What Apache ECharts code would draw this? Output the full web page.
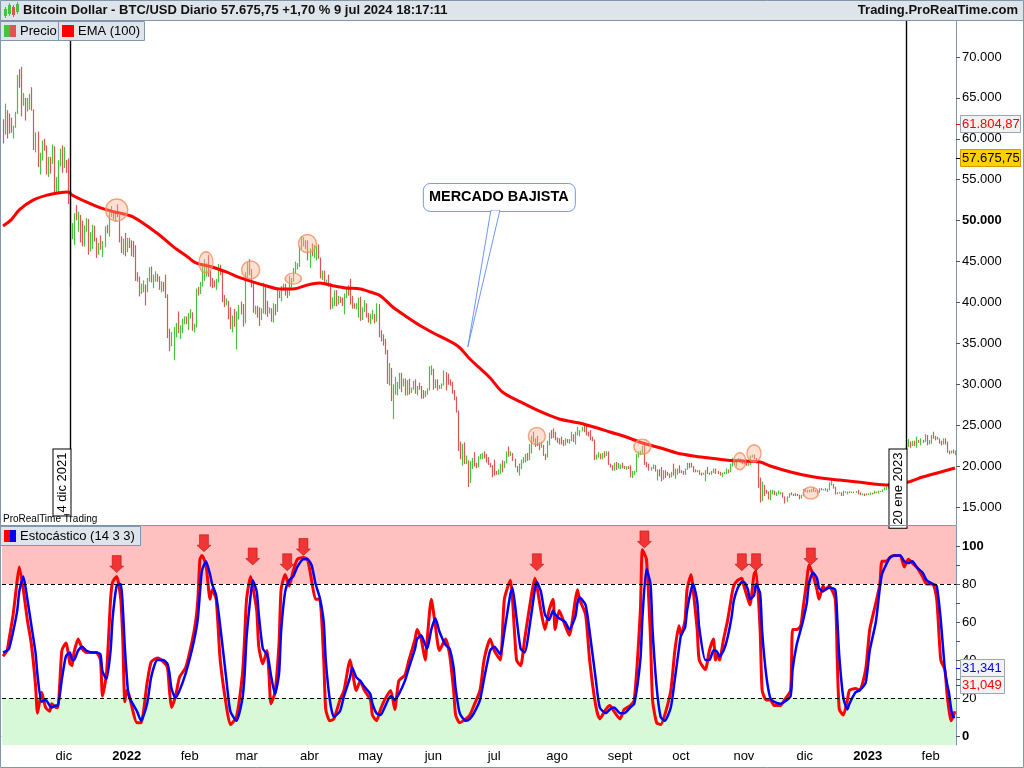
<!DOCTYPE html>
<html>
<head>
<meta charset="utf-8">
<title>Bitcoin Dollar - BTC/USD</title>
<script src="https://cdn.jsdelivr.net/npm/echarts@6/dist/echarts.min.js"></script>
<style>
html,body{margin:0;padding:0;background:#fff;overflow:hidden}
#chart{width:1024px;height:768px}
</style>
</head>
<body>
<div id="chart"></div>
<script>
// ================= DATA =================
const firstDay = '2021-11-01';
const dayCount = 470;
const monthNames = ['ene','feb','mar','abr','may','jun','jul','ago','sept','oct','nov','dic'];
const prevClose = 61300; // close of 2021-10-31 (open of first bar)

const closes = [
// nov 2021
61000,63200,62900,61400,61000,61500,63300,67600,66900,64900,64950,64150,64470,65470,63560,60160,60370,56940,58120,59750,58730,56290,57570,57200,58960,53570,54820,57250,57810,57000,
// dic 2021
57230,56510,53790,49400,49400,50580,50540,50570,47540,47150,49390,50050,46700,48340,48860,47630,46130,46830,46700,46880,48940,48630,50780,50820,50430,50810,50640,47590,46440,47180,46310,
// ene 2022
47690,47340,46460,45900,43570,43160,41560,41730,41910,41820,42740,43950,42590,43100,43180,43110,42250,42380,41680,40680,36460,35030,36280,36650,36950,36850,37140,37710,38170,37920,38480,
// feb 2022
38740,36950,37150,41570,41380,42410,43840,44120,44340,43570,42410,42240,42200,42590,44580,43960,40540,40030,40120,38430,37010,38230,37250,38330,39210,39110,37700,43190,
// mar 2022
44350,43920,42450,39140,39400,38420,37990,38730,41940,39440,38790,38900,37850,39660,39280,41110,40920,41760,42200,41260,41000,42360,42890,43960,44350,44500,46820,47130,47470,47060,45540,
// abr 2022
46280,45810,46410,46580,45500,43170,43440,42250,42750,42160,39530,40130,41170,39940,40550,40380,39680,40800,41500,41370,40530,39740,39470,39470,40460,38120,39240,39740,38600,37710,
// may 2022
38470,38530,37750,39700,36580,36040,35540,34060,30300,31020,28940,29050,29280,30100,31310,29860,30420,28720,30310,29200,29430,30320,29100,29650,29560,29270,28630,29030,29470,31730,31790,
// jun 2022
29800,30450,29700,29860,29910,31370,31130,30210,30110,29080,28420,26760,22490,22210,22570,20380,20470,19020,20550,20710,20000,19970,21080,21230,21500,21030,20730,20280,20100,19780,
// jul 2022
19300,19250,19300,20230,20190,20550,21640,21590,21590,20840,19960,19330,20210,20570,20830,21190,20780,22490,23390,23230,23160,22680,22460,22580,21310,21250,22950,23850,23800,23650,23310,
// ago 2022
23270,22990,22820,22630,23290,22960,23180,23810,23160,23950,23950,24400,24440,24310,24130,23850,23340,23210,20880,21170,21530,21400,21530,21370,21570,20260,20040,19550,20290,19810,20050,
// sept 2022
20130,19950,19830,20000,19800,18800,19290,19320,21360,21650,21830,22400,20300,20230,19700,19800,20110,19420,19540,18880,18550,19410,19300,18930,18800,19220,19110,19430,19590,19430,
// oct 2022
19310,19060,19630,20340,20160,19960,19530,19420,19450,19140,19050,19160,19380,19190,19070,19260,19550,19330,19140,19050,19170,19210,19570,19330,20090,20770,20290,20600,20810,20630,20490,
// nov 2022
20480,20160,20210,21150,21300,20910,20600,18540,15880,17590,17040,16800,16350,16620,16900,16660,16690,16700,16700,16280,15780,16190,16610,16600,16520,16460,16440,16220,16440,17170,
// dic 2022
16970,17090,16890,17110,16970,17090,16840,17230,17130,17130,17090,17210,17780,17810,17360,16630,16780,16740,16440,16900,16820,16830,16780,16840,16830,16920,16710,16550,16630,16600,16540,
// ene 2023
16620,16680,16670,16850,16830,16950,16940,17130,17180,17440,17940,18850,19930,20950,20870,21170,21160,20690,21080,22680,22780,22710,22930,22640,23060,23010,23080,23030,23770,22840,23140,
// feb 2023
23720,23490,23430,23330,22930,22760,23260,22950,21800,21630,21860,21780,21800
];

const lows = [
59500,60600,60100,60700,60800,60100,61400,63100,66300,62800,64100,62300,63400,63600,63500,58700,58400,56600,55700,57400,58600,55700,55400,55800,57000,53300,53600,53500,56700,55900,
56500,55900,52100,42000,47800,47100,50100,48700,47400,46900,46900,48700,45900,46300,46600,47500,45500,45900,46500,45600,46800,48500,48100,50500,50200,49900,50500,47400,46100,45900,45700,
46200,46700,45700,45600,42700,42600,40800,41100,41300,39700,41300,42600,42500,41800,42600,42600,41600,41300,41400,40600,35700,34100,34700,33000,35800,36300,35600,36300,37400,37400,36700,
38100,36600,36400,37000,40900,41100,42000,42700,43200,43200,42000,41800,41900,41600,42500,43400,40100,39500,39700,38000,36800,36400,37100,34300,38000,38600,37100,37500,
42900,43400,41900,38800,38600,38200,37200,37900,38700,38600,38300,38700,37700,37600,38500,38900,40600,40200,41500,40900,40600,40900,41900,42600,43600,44100,44400,46600,46900,46600,45200,
44300,45700,45500,45200,45400,43000,42800,42200,42100,42000,39200,39300,39600,39600,39800,40000,39600,38600,40600,40900,39800,39300,39300,39200,38200,37800,37900,38900,38200,37600,
37400,38000,37500,37700,35800,35300,34800,33700,30100,29900,28000,25800,28800,28700,29500,29100,29800,28700,28700,28800,29000,29400,28900,28700,29400,28300,28300,28500,28800,29300,31200,
29400,29600,29300,29500,29500,29900,29300,30000,29900,28900,28100,26600,21900,20900,20100,20300,20300,17500,18000,19700,20000,19800,19900,20900,20900,21000,20500,20200,19900,18700,
18900,19000,19000,19100,19300,19800,20400,21200,21300,20700,19900,19300,18900,19700,20400,20500,20700,20800,21600,23000,22400,22500,22000,22300,21300,20800,21100,22600,23400,23500,23200,
22900,22700,22700,22500,22600,22900,22800,23100,23000,22700,23800,23700,24300,24200,23800,23700,23200,23100,20800,20900,21100,20900,20900,21100,21300,20200,19900,19500,19500,19600,19750,
19700,19800,19700,19600,19700,18700,18600,19000,19300,21100,21400,21600,20200,19900,19500,19500,19700,19400,18300,18800,18200,18400,18600,18900,18600,18700,18900,18500,19000,19200,
19200,19000,19000,19600,19800,19900,19300,19300,19300,19000,18900,19000,18200,19100,19000,19000,19200,19100,19100,18900,18700,19100,19100,19200,19300,20000,20200,20000,20600,20500,20300,
20300,20100,20100,20200,21100,20900,20400,17400,15600,15800,16400,16700,16000,15900,16600,16500,16400,16600,16600,16200,15500,15700,16200,16500,16400,16400,16400,16000,16100,16400,
16900,16800,16850,16880,16900,16900,16700,16800,17100,17100,17050,16900,17100,17700,17300,16600,16600,16700,16400,16400,16800,16600,16750,16780,16750,16800,16600,16500,16500,16400,16500,
16500,16550,16600,16650,16750,16700,16900,16900,17100,17150,17300,17900,18700,19900,20600,20600,20900,20500,20700,20900,22400,22300,22500,22500,22300,22900,22600,22900,23000,22600,22700,
22800,23400,23200,23300,22800,22600,22700,22700,21700,21500,21600,21600,21400
];

const highs = [
62400,64300,63500,63100,62600,61600,63300,67800,68500,68800,65600,65000,65000,65500,66300,63600,60800,60900,58300,59800,60000,59200,57800,57800,59300,59100,55300,57400,58800,59200,
59000,57400,57600,53800,49700,50900,51900,51100,50700,50000,49400,50300,50200,48600,49500,49400,47900,47300,48200,47500,49300,49500,51300,51800,51100,51200,52000,50700,48100,47800,48500,
47900,47900,47600,47500,47000,43700,43100,42300,42700,42200,43000,44300,44400,43400,43800,43500,43200,42600,42500,43400,41000,36800,36400,37000,37500,38900,37200,38000,38300,38300,38700,
39200,38800,37400,41700,41900,42500,44400,45300,44800,45800,43900,43000,42700,42900,44700,44600,44100,40900,40500,40200,39400,38400,39200,38900,39700,40100,39800,43700,
44900,45300,44100,42500,39600,39600,39400,39300,42400,42000,40200,39400,39300,39900,39800,41600,41400,42000,42300,42300,41500,43300,43000,44200,45000,44800,46900,48100,48000,47600,47600,
46600,47200,47000,46900,47100,45500,43900,43900,42800,43400,42400,40600,41500,41500,40800,40700,40600,41100,41700,42100,42900,40800,39900,39900,40600,40700,39400,40300,39900,38700,
38600,39100,38600,39900,39800,36600,36100,35500,34200,32600,32000,30000,30900,30300,31400,31400,30700,30700,30500,30700,29600,30400,30600,29800,30200,29800,29300,29200,29500,32200,32300,
31900,30600,30600,29900,30100,31700,31500,31300,30600,30300,29300,28500,26800,23000,22700,22900,21300,20700,20600,21000,21700,20400,21200,21500,21600,21800,21500,21100,20400,20100,
20800,19400,19600,20300,20700,20600,21800,22400,21800,21600,20900,20000,20300,20800,21100,21500,21600,22700,23700,24200,23400,23700,22900,23000,22600,21500,23100,24100,24400,24600,24200,
23500,23400,23600,23200,23400,23300,23300,24200,23900,24200,24800,24400,24800,25000,25100,24200,24400,23600,23250,21400,21700,21500,21600,21800,21800,21800,20300,20100,20400,20500,20400,
20200,20400,20000,20000,20000,20100,19400,19400,21500,21800,21900,22500,22700,20500,20300,19900,20200,20150,19600,19600,19900,19500,19500,19300,19100,19300,20300,19700,19700,20100,
19500,19400,19700,20400,20400,20400,20000,19600,19500,19500,19200,19200,19500,19900,19200,19400,19700,19700,19400,19300,19200,19300,19700,19600,20300,21000,20800,20700,21000,20900,20800,
20700,20800,20400,21300,21400,21400,21000,20700,18600,18100,17700,17100,16900,17100,17100,17000,16800,17000,16800,16800,16300,16300,16700,16800,16600,16700,16600,16500,16500,17200,
17300,17100,17100,17200,17400,17100,17100,17300,17300,17200,17300,17240,18000,18400,17800,17500,16800,16800,16800,17000,16900,16900,16900,16900,16870,16950,17100,16800,16650,16650,16650,
16650,16770,16760,17000,16880,17000,16970,17150,17400,17500,17950,19100,19950,21200,21000,21400,21600,21600,21200,22700,23300,23000,23100,23100,23600,23200,23400,23200,23900,23800,23200,
23800,24200,23700,23600,23400,23100,23400,23400,23000,21900,21900,22000,21900
];

// EMA (100)
const emaLine = [
['2021-11-01',49350],['2021-11-05',50090],['2021-11-09',51310],['2021-11-16',52530],['2021-11-23',53140],['2021-11-28',53390],
['2021-12-03',53510],['2021-12-05',53140],['2021-12-12',52290],['2021-12-19',51550],['2021-12-26',51060],['2022-01-04',50450],
['2022-01-17',48250],['2022-01-24',46790],['2022-01-31',45560],['2022-02-04',44830],['2022-02-12',44340],['2022-02-19',43730],
['2022-02-26',43000],['2022-03-04',42510],['2022-03-11',42020],['2022-03-17',41650],['2022-03-24',41650],['2022-03-31',42140],
['2022-04-06',42380],['2022-04-13',42020],['2022-04-19',41770],['2022-04-26',41650],['2022-05-01',41280],['2022-05-06',40800],
['2022-05-12',39450],['2022-05-19',38230],['2022-05-25',37250],['2022-06-01',36270],['2022-06-13',34680],['2022-06-19',33090],
['2022-06-29',30770],['2022-07-05',29060],['2022-07-14',27840],['2022-07-23',26740],['2022-08-02',25760],['2022-08-12',25270],
['2022-08-19',24780],['2022-08-27',24170],['2022-09-04',23560],['2022-09-12',22820],['2022-09-21',22210],['2022-09-29',21600],
['2022-10-07',21240],['2022-10-15',20990],['2022-10-23',20750],['2022-10-31',20620],['2022-11-09',20500],['2022-11-14',20010],
['2022-11-24',19280],['2022-12-03',18790],['2022-12-13',18420],['2022-12-18',18300],['2022-12-27',18060],['2023-01-04',17810],
['2023-01-11',17690],['2023-01-21',18060],['2023-01-28',18670],['2023-02-06',19280],['2023-02-13',19770]
];

// highlighted price points (orange circles)
const circleDates  = ['2021-12-27','2022-02-09','2022-03-03','2022-03-24','2022-03-31','2022-07-22','2022-09-12','2022-10-30','2022-11-06','2022-12-04'];
const circlePrices = [51300,44900,43970,42900,47200,23680,22370,20620,21560,16710];

// Stochastic (14 3 3): %K (red) and %D (blue)
const stochK = [
['2021-11-01',42],['2021-11-03',45],['2021-11-04',51],['2021-11-06',64],['2021-11-08',82],['2021-11-09',89],['2021-11-11',77],['2021-11-13',61],['2021-11-15',48],['2021-11-17',27],['2021-11-18',12],['2021-11-20',23],['2021-11-22',15],['2021-11-24',13],['2021-11-25',17],['2021-11-27',15],['2021-11-28',15],['2021-11-30',45],
['2021-12-02',49],['2021-12-04',38],['2021-12-05',37],['2021-12-06',44],['2021-12-08',51],['2021-12-10',46],['2021-12-12',44],['2021-12-15',44],['2021-12-17',44],['2021-12-19',40],['2021-12-20',21],['2021-12-22',33],['2021-12-24',72],['2021-12-25',81],['2021-12-27',84],['2021-12-29',72],['2021-12-30',51],['2021-12-31',18],
['2022-01-01',24],['2022-01-02',22],['2022-01-06',7],['2022-01-08',7],['2022-01-11',28],['2022-01-13',39],['2022-01-16',41],['2022-01-19',39],['2022-01-21',36],['2022-01-22',24],['2022-01-23',15],['2022-01-25',21],['2022-01-27',31],['2022-01-30',36],
['2022-02-02',49],['2022-02-04',61],['2022-02-05',72],['2022-02-06',93],['2022-02-07',95],['2022-02-09',90],['2022-02-11',72],['2022-02-12',77],['2022-02-14',72],['2022-02-16',40],['2022-02-19',16],['2022-02-21',6],['2022-02-24',10],['2022-02-27',33],['2022-02-28',51],
['2022-03-01',72],['2022-03-03',84],['2022-03-04',79],['2022-03-06',66],['2022-03-07',47],['2022-03-09',38],['2022-03-11',45],['2022-03-12',33],['2022-03-13',17],['2022-03-15',23],['2022-03-17',49],['2022-03-18',77],['2022-03-20',85],['2022-03-22',79],['2022-03-24',87],['2022-03-26',93],['2022-03-29',94],['2022-03-31',93],
['2022-04-02',82],['2022-04-04',72],['2022-04-06',72],['2022-04-08',40],['2022-04-09',14],['2022-04-11',8],['2022-04-13',9],['2022-04-16',19],['2022-04-18',24],['2022-04-21',40],['2022-04-22',35],['2022-04-24',24],['2022-04-26',29],['2022-04-28',24],
['2022-05-01',19],['2022-05-02',11],['2022-05-04',8],['2022-05-06',14],['2022-05-08',19],['2022-05-11',24],['2022-05-13',14],['2022-05-15',29],['2022-05-18',32],['2022-05-20',40],['2022-05-23',51],['2022-05-24',56],['2022-05-26',51],['2022-05-28',40],['2022-05-29',51],['2022-05-31',72],
['2022-06-02',58],['2022-06-04',45],['2022-06-07',51],['2022-06-09',43],['2022-06-11',24],['2022-06-12',11],['2022-06-14',7],['2022-06-17',9],['2022-06-19',11],['2022-06-21',16],['2022-06-24',24],['2022-06-26',40],['2022-06-29',51],
['2022-07-01',45],['2022-07-04',40],['2022-07-06',72],['2022-07-09',82],['2022-07-10',72],['2022-07-12',40],['2022-07-14',37],['2022-07-16',51],['2022-07-19',72],['2022-07-21',83],['2022-07-22',79],['2022-07-24',66],['2022-07-26',56],['2022-07-28',66],['2022-07-30',72],['2022-07-31',56],
['2022-08-02',66],['2022-08-05',58],['2022-08-07',53],['2022-08-10',72],['2022-08-11',77],['2022-08-12',72],['2022-08-15',64],['2022-08-17',40],['2022-08-20',16],['2022-08-22',9],['2022-08-25',14],['2022-08-27',16],['2022-08-29',13],
['2022-09-01',9],['2022-09-03',14],['2022-09-06',16],['2022-09-08',19],['2022-09-11',66],['2022-09-12',98],['2022-09-14',93],['2022-09-16',51],['2022-09-17',19],['2022-09-19',7],['2022-09-21',6],['2022-09-23',11],['2022-09-26',24],['2022-09-28',45],['2022-09-30',58],
['2022-10-01',53],['2022-10-03',61],['2022-10-04',77],['2022-10-06',85],['2022-10-07',77],['2022-10-09',56],['2022-10-10',40],['2022-10-13',35],['2022-10-15',45],['2022-10-17',51],['2022-10-18',40],['2022-10-19',43],['2022-10-20',40],['2022-10-22',51],['2022-10-24',61],['2022-10-26',74],['2022-10-27',79],['2022-10-29',82],['2022-10-31',83],
['2022-11-01',79],['2022-11-03',72],['2022-11-04',69],['2022-11-06',85],['2022-11-07',87],['2022-11-09',56],['2022-11-10',24],['2022-11-12',19],['2022-11-14',19],['2022-11-16',16],['2022-11-19',16],['2022-11-21',19],['2022-11-24',24],['2022-11-25',56],['2022-11-27',56],['2022-11-29',58],['2022-11-30',66],
['2022-12-02',82],['2022-12-03',90],['2022-12-05',85],['2022-12-07',77],['2022-12-08',72],['2022-12-10',79],['2022-12-11',77],['2022-12-13',79],['2022-12-16',72],['2022-12-17',40],['2022-12-18',14],['2022-12-20',11],['2022-12-22',19],['2022-12-23',24],['2022-12-26',25],['2022-12-28',24],['2022-12-31',35],
['2023-01-02',56],['2023-01-05',70],['2023-01-07',80],['2023-01-08',92],['2023-01-10',92],['2023-01-12',94],['2023-01-14',95],['2023-01-17',95],['2023-01-19',89],['2023-01-21',93],['2023-01-23',91],['2023-01-25',89],['2023-01-28',84],['2023-01-30',80],
['2023-02-02',80],['2023-02-04',72],['2023-02-06',40],['2023-02-08',35],['2023-02-09',23],['2023-02-10',14],['2023-02-11',8],['2023-02-12',10],['2023-02-13',13]
];
const stochD = [
['2021-11-01',44],['2021-11-03',45],['2021-11-04',46],['2021-11-06',55],['2021-11-08',66],['2021-11-09',76],['2021-11-11',84],['2021-11-13',72],['2021-11-15',58],['2021-11-17',44],['2021-11-18',32],['2021-11-20',18],['2021-11-22',19],['2021-11-24',16],['2021-11-25',15],['2021-11-27',16],['2021-11-28',16],['2021-11-30',30],
['2021-12-02',42],['2021-12-04',44],['2021-12-05',40],['2021-12-06',40],['2021-12-08',45],['2021-12-10',47],['2021-12-12',45],['2021-12-15',44],['2021-12-17',44],['2021-12-19',43],['2021-12-20',34],['2021-12-22',30],['2021-12-24',45],['2021-12-25',62],['2021-12-27',79],['2021-12-29',80],['2021-12-30',68],['2021-12-31',47],
['2022-01-01',31],['2022-01-02',21],['2022-01-06',13],['2022-01-08',8],['2022-01-11',17],['2022-01-13',31],['2022-01-16',40],['2022-01-19',40],['2022-01-21',38],['2022-01-22',33],['2022-01-23',25],['2022-01-25',20],['2022-01-27',24],['2022-01-30',33],
['2022-02-02',45],['2022-02-04',55],['2022-02-05',62],['2022-02-06',75],['2022-02-07',87],['2022-02-09',92],['2022-02-11',85],['2022-02-12',80],['2022-02-14',74],['2022-02-16',58],['2022-02-19',30],['2022-02-21',13],['2022-02-24',8],['2022-02-27',20],['2022-02-28',32],
['2022-03-01',52],['2022-03-03',74],['2022-03-04',82],['2022-03-06',76],['2022-03-07',64],['2022-03-09',46],['2022-03-11',43],['2022-03-12',39],['2022-03-13',32],['2022-03-15',22],['2022-03-17',33],['2022-03-18',55],['2022-03-20',76],['2022-03-22',82],['2022-03-24',84],['2022-03-26',89],['2022-03-29',93],['2022-03-31',93],
['2022-04-02',90],['2022-04-04',80],['2022-04-06',73],['2022-04-08',60],['2022-04-09',40],['2022-04-11',19],['2022-04-13',10],['2022-04-16',13],['2022-04-18',21],['2022-04-21',31],['2022-04-22',36],['2022-04-24',31],['2022-04-26',29],['2022-04-28',26],
['2022-05-01',22],['2022-05-02',17],['2022-05-04',12],['2022-05-06',11],['2022-05-08',15],['2022-05-11',21],['2022-05-13',19],['2022-05-15',22],['2022-05-18',29],['2022-05-20',36],['2022-05-23',46],['2022-05-24',51],['2022-05-26',53],['2022-05-28',48],['2022-05-29',46],['2022-05-31',56],
['2022-06-02',62],['2022-06-04',55],['2022-06-07',48],['2022-06-09',46],['2022-06-11',36],['2022-06-12',25],['2022-06-14',12],['2022-06-17',8],['2022-06-19',9],['2022-06-21',12],['2022-06-24',19],['2022-06-26',30],['2022-06-29',45],
['2022-07-01',47],['2022-07-04',43],['2022-07-06',55],['2022-07-09',75],['2022-07-10',78],['2022-07-12',62],['2022-07-14',46],['2022-07-16',44],['2022-07-19',62],['2022-07-21',77],['2022-07-22',81],['2022-07-24',76],['2022-07-26',64],['2022-07-28',61],['2022-07-30',66],['2022-07-31',64],
['2022-08-02',62],['2022-08-05',60],['2022-08-07',56],['2022-08-10',63],['2022-08-11',70],['2022-08-12',73],['2022-08-15',69],['2022-08-17',55],['2022-08-20',30],['2022-08-22',15],['2022-08-25',12],['2022-08-27',14],['2022-08-29',15],
['2022-09-01',12],['2022-09-03',12],['2022-09-06',15],['2022-09-08',17],['2022-09-11',40],['2022-09-12',62],['2022-09-14',88],['2022-09-16',80],['2022-09-17',56],['2022-09-19',26],['2022-09-21',10],['2022-09-23',8],['2022-09-26',15],['2022-09-28',30],['2022-09-30',46],
['2022-10-01',53],['2022-10-03',57],['2022-10-04',66],['2022-10-06',77],['2022-10-07',80],['2022-10-09',71],['2022-10-10',57],['2022-10-13',40],['2022-10-15',40],['2022-10-17',45],['2022-10-18',45],['2022-10-19',44],['2022-10-20',42],['2022-10-22',45],['2022-10-24',52],['2022-10-26',63],['2022-10-27',71],['2022-10-29',78],['2022-10-31',81],
['2022-11-01',81],['2022-11-03',77],['2022-11-04',72],['2022-11-06',74],['2022-11-07',80],['2022-11-09',75],['2022-11-10',55],['2022-11-12',32],['2022-11-14',20],['2022-11-16',18],['2022-11-19',17],['2022-11-21',18],['2022-11-24',21],['2022-11-25',35],['2022-11-27',48],['2022-11-29',56],['2022-11-30',60],
['2022-12-02',70],['2022-12-03',80],['2022-12-05',86],['2022-12-07',83],['2022-12-08',78],['2022-12-10',76],['2022-12-11',77],['2022-12-13',78],['2022-12-16',77],['2022-12-17',62],['2022-12-18',42],['2022-12-20',20],['2022-12-22',14],['2022-12-23',17],['2022-12-26',23],['2022-12-28',24],['2022-12-31',28],
['2023-01-02',45],['2023-01-05',60],['2023-01-07',78],['2023-01-08',85],['2023-01-10',90],['2023-01-12',94],['2023-01-14',95],['2023-01-17',95],['2023-01-19',92],['2023-01-21',91],['2023-01-23',92],['2023-01-25',89],['2023-01-28',86],['2023-01-30',82],
['2023-02-02',80],['2023-02-04',79],['2023-02-06',61],['2023-02-08',35],['2023-02-09',28],['2023-02-10',23],['2023-02-11',15],['2023-02-12',10],['2023-02-13',10]
];

// sell signals (red arrows) on the stochastic, value at the arrow tip
const arrowDates  = ['2021-12-27','2022-02-08','2022-03-04','2022-03-21','2022-03-29','2022-07-22','2022-09-13','2022-10-31','2022-11-07','2022-12-04'];
const arrowValues = [86,97,90,87,95,87,99,87,87,90];

const priceTicks = [15000,20000,25000,30000,35000,40000,45000,50000,55000,60000,65000,70000];
const stochTicks = [0,20,40,60,80,100];
const stochMinorTicks = [0,10,20,30,40,50,60,70,80,90,100];
const stochLevels = [80,20];
const lastPrice = 57675.75, lastEma = 61804.87, lastStochD = 31.341, lastStochK = 31.049;
const markerDates = ['2021-12-04','2023-01-20'];
const markerLabels = ['4 dic 2021','20 ene 2023'];
const calloutAnchor = ['2022-06-18', 34560];
const calloutText = 'MERCADO BAJISTA';
const titleText = 'Bitcoin Dollar - BTC/USD Diario 57.675,75 +1,70 % 9 jul 2024 18:17:11';

// ================= STYLE =================
const FONT = 'Arial, "Liberation Sans", Helvetica, sans-serif';
const FRAME = '#8196a8';
const HEAD = '#dde4ea';
const UP = '#46c23e', DOWN = '#dc5656';
const circleSizes = [[22,22],[14,21],[18,18],[16,11],[18,18],[17,17],[17,15],[12,17],[14,17],[15,12]];
const PRICE_MIN = 12800, PRICE_MAX = 74400;
const ST_MIN = -4.74, ST_MAX = 110.53;

// ================= BUILD =================
const categories = [];
{
  const t0 = Date.parse(firstDay + 'T00:00:00Z');
  for (let i = 0; i < dayCount; i++) categories.push(new Date(t0 + i * 86400000).toISOString().slice(0, 10));
}
const bars = categories.map((d, i) => [i, i === 0 ? prevClose : closes[i - 1], closes[i], lows[i], highs[i]]);

function fmtEs(v, dec) {
  const p = v.toFixed(dec).split('.');
  const int = p[0].replace(/\B(?=(\d{3})+(?!\d))/g, '.');
  return p[1] ? int + ',' + p[1] : int;
}

const chart = echarts.init(document.getElementById('chart'), null, { renderer: 'canvas', width: 1024, height: 768 });

const isMonthStart = (i, v) => v.slice(8) === '01';

const option = {
  animation: false,
  backgroundColor: '#ffffff',
  textStyle: { fontFamily: FONT },
  grid: [
    { left: 2, top: 21, width: 954, height: 504, containLabel: false, outerBoundsMode: 'none' },
    { left: 2, top: 526, width: 954, height: 219, containLabel: false, outerBoundsMode: 'none' }
  ],
  xAxis: [
    { type: 'category', gridIndex: 0, data: categories, axisLine: { show: false }, axisTick: { show: false }, axisLabel: { show: false }, splitLine: { show: false } },
    { type: 'category', gridIndex: 1, data: categories,
      axisLine: { show: true, lineStyle: { color: FRAME, width: 1 } },
      axisTick: { show: true, interval: isMonthStart, alignWithLabel: true, length: 4, lineStyle: { color: '#555' } },
      axisLabel: { show: true, interval: (i, v) => i > 0 && v.slice(8) === '01', fontSize: 13, color: '#000', fontFamily: FONT, margin: 5,
        formatter: (v) => { const m = +v.slice(5, 7); return m === 1 ? '{b|' + v.slice(0, 4) + '}' : monthNames[m - 1]; },
        rich: { b: { fontWeight: 'bold', fontSize: 13, fontFamily: FONT, color: '#000' } } },
      splitLine: { show: false } }
  ],
  yAxis: [
    { type: 'value', gridIndex: 0, position: 'right', min: PRICE_MIN, max: PRICE_MAX, scale: true,
      axisLine: { show: true, lineStyle: { color: FRAME, width: 1 } },
      axisTick: { show: true, length: 4, customValues: priceTicks, lineStyle: { color: '#555' } },
      axisLabel: { show: true, customValues: priceTicks, margin: 6, fontSize: 13, color: '#000', fontFamily: FONT,
        formatter: (v) => v === 50000 ? '{b|' + fmtEs(v, 0) + '}' : fmtEs(v, 0),
        rich: { b: { fontWeight: 'bold', fontSize: 13, fontFamily: FONT, color: '#000' } } },
      splitLine: { show: false } },
    { type: 'value', gridIndex: 1, position: 'right', min: ST_MIN, max: ST_MAX,
      axisLine: { show: true, lineStyle: { color: FRAME, width: 1 } },
      axisTick: { show: true, length: 4, customValues: stochMinorTicks, lineStyle: { color: '#555' } },
      axisLabel: { show: true, customValues: stochTicks, margin: 6, fontSize: 13, color: '#000', fontFamily: FONT,
        formatter: (v) => (v === 0 || v === 100) ? '{b|' + v + '}' : String(v),
        rich: { b: { fontWeight: 'bold', fontSize: 13, fontFamily: FONT, color: '#000' } } },
      splitLine: { show: false } }
  ],
  series: [
    { name: 'Precio', type: 'custom', xAxisIndex: 0, yAxisIndex: 0, z: 2,
      encode: { x: 0, y: [1, 2, 3, 4] },
      data: bars,
      renderItem: (params, api) => {
        const i = api.value(0), o = api.value(1), c = api.value(2), l = api.value(3), h = api.value(4);
        const top = api.coord([i, Math.max(h, o, c)]);
        const bot = api.coord([i, Math.min(l, o, c)]);
        const x = Math.round(top[0]) + 0.5;
        return { type: 'line', shape: { x1: x, y1: top[1], x2: x, y2: bot[1] + 0.5 }, style: { stroke: c >= o ? UP : DOWN, lineWidth: 1.2 } };
      } },
    { name: 'EMA (100)', type: 'line', xAxisIndex: 0, yAxisIndex: 0, z: 3, data: emaLine, smooth: 0.3, showSymbol: false, symbol: 'none',
      lineStyle: { color: '#ff0000', width: 3 } },
    { name: 'circles', type: 'scatter', xAxisIndex: 0, yAxisIndex: 0, z: 4,
      data: circleDates.map((d, i) => ({ value: [d, circlePrices[i]], symbolSize: circleSizes[i] })),
      symbol: 'circle',
      itemStyle: { color: 'rgba(255,178,150,0.5)', borderColor: '#f39060', borderWidth: 1.5 } },
    { name: 'bands', type: 'line', xAxisIndex: 1, yAxisIndex: 1, z: 1, data: [], silent: true,
      markArea: { silent: true, data: [
        [{ yAxis: 80, itemStyle: { color: '#ffc0c0', opacity: 1 } }, { yAxis: ST_MAX }],
        [{ yAxis: ST_MIN, itemStyle: { color: '#d7f9d7', opacity: 1 } }, { yAxis: 20 }]
      ] },
      markLine: { silent: true, symbol: ['none', 'none'], label: { show: false },
        lineStyle: { color: '#000', type: [4, 3], width: 1 },
        data: stochLevels.map(v => ({ yAxis: v })) } },
    { name: '%K', type: 'line', xAxisIndex: 1, yAxisIndex: 1, z: 3, data: stochK, smooth: 0.2, showSymbol: false, symbol: 'none',
      lineStyle: { color: '#ff0000', width: 3 } },
    { name: '%D', type: 'line', xAxisIndex: 1, yAxisIndex: 1, z: 4, data: stochD, smooth: 0.2, showSymbol: false, symbol: 'none',
      lineStyle: { color: '#0000ff', width: 2.5 } },
    { name: 'arrows', type: 'scatter', xAxisIndex: 1, yAxisIndex: 1, z: 5,
      data: arrowDates.map((d, i) => [d, arrowValues[i]]),
      symbol: 'path://M2.5,0L11.5,0L11.5,10.5L14,10.5L7,17L0,10.5L2.5,10.5Z',
      symbolSize: [14, 17], symbolOffset: [0, '-50%'],
      itemStyle: { color: '#ee1010', borderColor: '#b00000', borderWidth: 0.6 } }
  ]
};
chart.setOption(option);

// ---------- annotations / panels ----------
const g = [];
const T = (o) => Object.assign({ type: 'text', silent: true }, o);
// header bar
g.push({ type: 'rect', shape: { x: 0, y: 0, width: 1024, height: 20 }, style: { fill: HEAD }, z: 100, silent: true });
g.push({ type: 'line', shape: { x1: 0, y1: 20.5, x2: 1024, y2: 20.5 }, style: { stroke: FRAME, lineWidth: 1 }, z: 101, silent: true });
// small candles icon
[[5, 9, 7, UP], [9, 5, 9, UP], [13, 7, 8, DOWN], [17, 4, 8, UP]].forEach(([x, y, h, c]) => {
  g.push({ type: 'line', shape: { x1: x + 0.5, y1: y - 2, x2: x + 0.5, y2: y + h + 2 }, style: { stroke: c, lineWidth: 1 }, z: 101, silent: true });
  g.push({ type: 'rect', shape: { x: x - 1, y: y, width: 3, height: h }, style: { fill: c }, z: 101, silent: true });
});
g.push(T({ x: 23, y: 10.5, z: 102, style: { text: titleText, font: 'bold 13px ' + FONT, fill: '#111', align: 'left', verticalAlign: 'middle', textAlign: 'left', textVerticalAlign: 'middle' } }));
g.push(T({ x: 1018, y: 10.5, z: 102, style: { text: 'Trading.ProRealTime.com', font: 'bold 13px ' + FONT, fill: '#111', align: 'right', verticalAlign: 'middle', textAlign: 'right', textVerticalAlign: 'middle' } }));

// panel separator + outer frame
g.push({ type: 'line', shape: { x1: 0, y1: 525.5, x2: 956, y2: 525.5 }, style: { stroke: FRAME, lineWidth: 1 }, z: 90, silent: true });
g.push({ type: 'rect', shape: { x: 0.5, y: 0.5, width: 1023, height: 767 }, style: { fill: null, stroke: FRAME, lineWidth: 1 }, z: 103, silent: true });

// vertical date markers
markerDates.forEach((d, k) => {
  const x = Math.round(chart.convertToPixel({ xAxisIndex: 0 }, d)) + 0.5;
  const topY = 449.5;
  g.push({ type: 'line', shape: { x1: x, y1: 21, x2: x, y2: topY }, style: { stroke: '#000', lineWidth: 1.4 }, z: 50, silent: true });
  g.push(T({ x: x, y: topY, rotation: Math.PI / 2, z: 51,
    style: { text: markerLabels[k], font: '13px ' + FONT, fill: '#000', align: 'right', verticalAlign: 'bottom', textAlign: 'right', textVerticalAlign: 'bottom',
      backgroundColor: '#fff', borderColor: '#000', borderWidth: 1, padding: [2, 3, 2, 3] } }));
});

// legends
function legendBox(x, y, w, label, swatch) {
  g.push({ type: 'rect', shape: { x: x + 0.5, y: y + 0.5, width: w, height: 19 }, style: { fill: HEAD, stroke: FRAME, lineWidth: 1 }, z: 110, silent: true });
  if (swatch.length === 2) {
    g.push({ type: 'rect', shape: { x: x + 4, y: y + 4, width: 6, height: 12 }, style: { fill: swatch[0] }, z: 111, silent: true });
    g.push({ type: 'rect', shape: { x: x + 10, y: y + 4, width: 6, height: 12 }, style: { fill: swatch[1] }, z: 111, silent: true });
  } else {
    g.push({ type: 'rect', shape: { x: x + 4, y: y + 4, width: 12, height: 12 }, style: { fill: swatch[0] }, z: 111, silent: true });
  }
  g.push(T({ x: x + 20, y: y + 10.5, z: 112, style: { text: label, font: '13px ' + FONT, fill: '#000', align: 'left', verticalAlign: 'middle', textAlign: 'left', textVerticalAlign: 'middle' } }));
}
legendBox(0, 21, 58, 'Precio', [UP, DOWN]);
legendBox(58, 21, 86, 'EMA (100)', ['#ff0000']);
legendBox(0, 526, 140, 'Estocástico (14 3 3)', ['#ff0000', '#0000ff']);
g.push(T({ x: 3, y: 519.5, z: 60, style: { text: 'ProRealTime Trading', font: '10px ' + FONT, fill: '#000', align: 'left', verticalAlign: 'middle', textAlign: 'left', textVerticalAlign: 'middle' } }));

// callout "MERCADO BAJISTA"
{
  const p = chart.convertToPixel({ gridIndex: 0 }, calloutAnchor);
  const ax = p[0], ay = p[1];
  const bx = ax - 45, by = ay - 164;
  g.push({ type: 'rect', shape: { x: bx + 0.5, y: by + 0.5, width: 152, height: 28, r: 7 }, style: { fill: '#fff', stroke: '#6f96f0', lineWidth: 1 }, z: 60, silent: true });
  g.push({ type: 'polygon', shape: { points: [[ax + 23, ay - 136.5], [ax + 32, ay - 136.5], [ax, ay]] }, style: { fill: '#fff', stroke: '#6f96f0', lineWidth: 1 }, z: 61, silent: true });
  g.push({ type: 'line', shape: { x1: ax + 23.8, y1: ay - 135.5, x2: ax + 31.2, y2: ay - 135.5 }, style: { stroke: '#fff', lineWidth: 2 }, z: 62, silent: true });
  g.push(T({ x: bx + 76, y: by + 14.5, z: 63, style: { text: calloutText, font: 'bold 14.5px ' + FONT, fill: '#000', align: 'center', verticalAlign: 'middle', textAlign: 'center', textVerticalAlign: 'middle' } }));
}

// value tags on the right axis
function tag(y, text, color, fill, stroke, w) {
  const yy = Math.round(y);
  g.push({ type: 'line', shape: { x1: 956, y1: yy + 0.5, x2: 961, y2: yy + 0.5 }, style: { stroke: color, lineWidth: 1 }, z: 120, silent: true });
  g.push({ type: 'rect', shape: { x: 960.5, y: yy - 8.5, width: w, height: 17 }, style: { fill: fill, stroke: stroke, lineWidth: 1 }, z: 120, silent: true });
  g.push(T({ x: 962, y: yy + 0.5, z: 121, style: { text: text, font: '13px ' + FONT, fill: color, align: 'left', verticalAlign: 'middle', textAlign: 'left', textVerticalAlign: 'middle' } }));
}
tag(chart.convertToPixel({ yAxisIndex: 0 }, lastEma), fmtEs(lastEma, 2), '#ff0000', '#f3f3f3', '#9aa6b2', 60);
tag(chart.convertToPixel({ yAxisIndex: 0 }, lastPrice), fmtEs(lastPrice, 2), '#000000', '#ffd000', '#d09a00', 60);
{
  const ys = chart.convertToPixel({ yAxisIndex: 1 }, lastStochD);
  tag(ys - 8.5, fmtEs(lastStochD, 3), '#0000ff', '#f3f3f3', '#9aa6b2', 44);
  tag(ys + 8.5, fmtEs(lastStochK, 3), '#ff0000', '#f3f3f3', '#9aa6b2', 44);
}

chart.setOption({ graphic: { elements: g } });
</script>
</body>
</html>
